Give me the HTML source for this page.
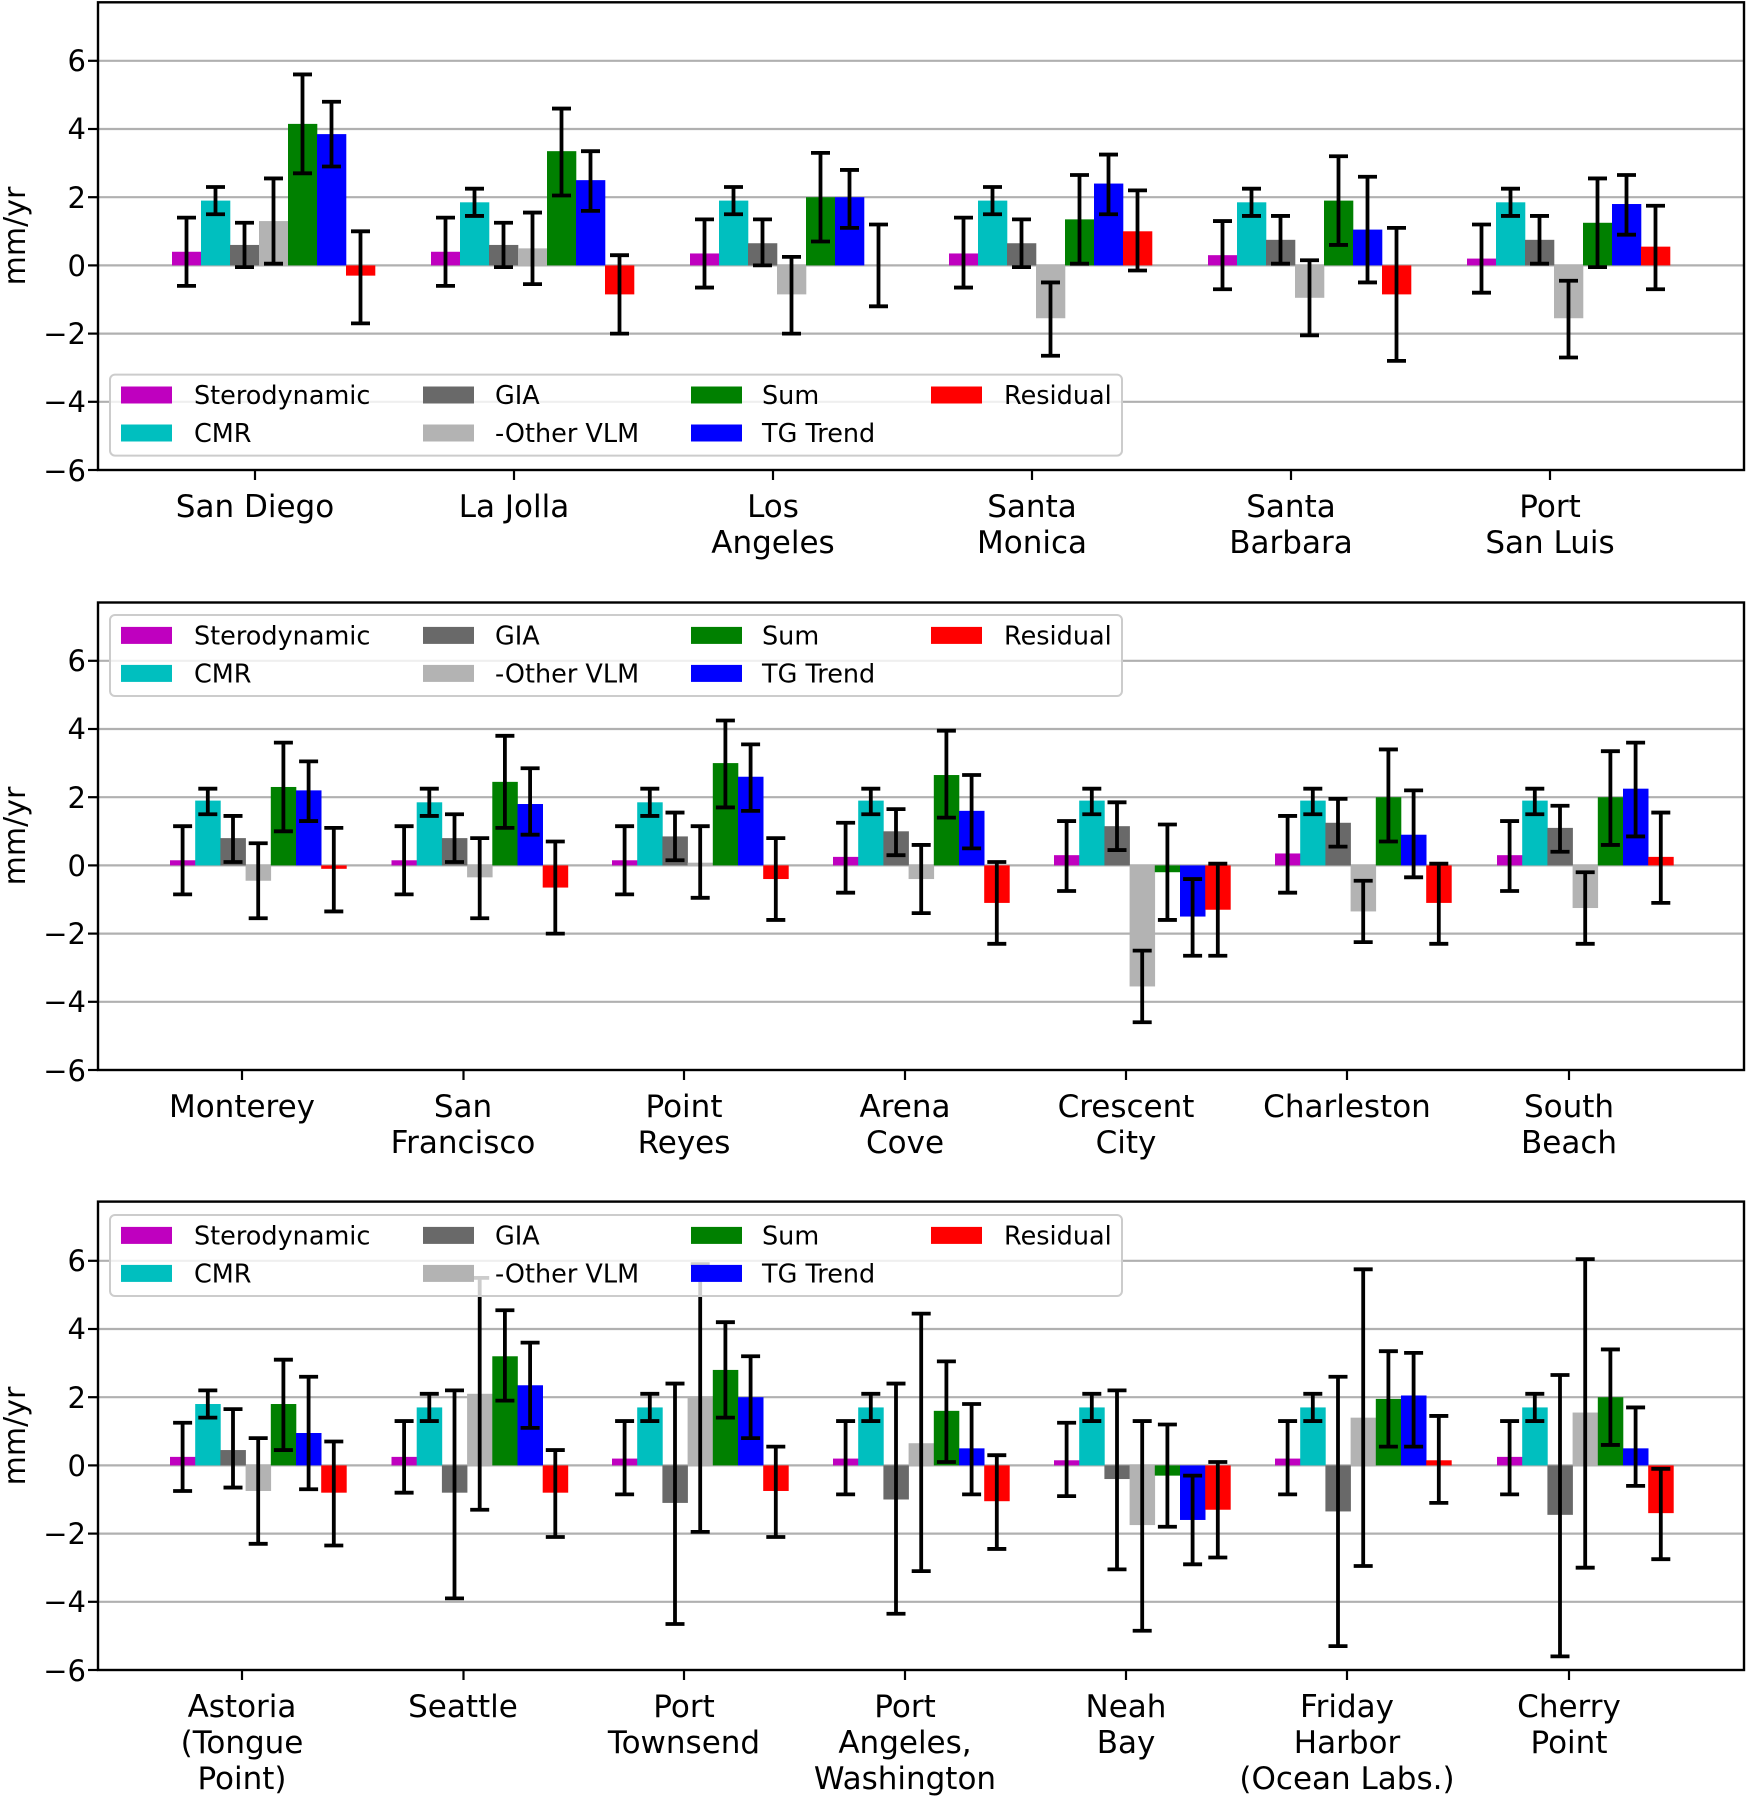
<!DOCTYPE html>
<html><head><meta charset="utf-8"><style>
html,body{margin:0;padding:0;background:#fff}
svg{display:block;font-family:"DejaVu Sans","Liberation Sans",sans-serif}
.yt{font-size:29px;text-anchor:end}
.xt{font-size:31px;text-anchor:middle}
.lg{font-size:25.5px}
</style></head><body>
<svg id="s" width="1747" height="1796" viewBox="0 0 1747 1796" xmlns="http://www.w3.org/2000/svg">
<g id="plot"></g>
<g id="frames"></g>
<g class="yt">
<text x="86" y="71">6</text><text x="86" y="139">4</text><text x="86" y="208">2</text><text x="86" y="276">0</text><text x="86" y="344">−2</text><text x="86" y="412">−4</text><text x="86" y="481">−6</text>
<text x="86" y="671">6</text><text x="86" y="739">4</text><text x="86" y="808">2</text><text x="86" y="876">0</text><text x="86" y="944">−2</text><text x="86" y="1012">−4</text><text x="86" y="1081">−6</text>
<text x="86" y="1271">6</text><text x="86" y="1339">4</text><text x="86" y="1408">2</text><text x="86" y="1476">0</text><text x="86" y="1544">−2</text><text x="86" y="1612">−4</text><text x="86" y="1681">−6</text>
</g>
<g font-size="30px" text-anchor="middle">
<text transform="translate(25,236) rotate(-90)">mm/yr</text>
<text transform="translate(25,836) rotate(-90)">mm/yr</text>
<text transform="translate(25,1436) rotate(-90)">mm/yr</text>
</g>
<g class="xt">
<text x="255" y="517">San Diego</text>
<text x="514" y="517">La Jolla</text>
<text x="773" y="517">Los</text><text x="773" y="553">Angeles</text>
<text x="1032" y="517">Santa</text><text x="1032" y="553">Monica</text>
<text x="1291" y="517">Santa</text><text x="1291" y="553">Barbara</text>
<text x="1550" y="517">Port</text><text x="1550" y="553">San Luis</text>

<text x="242" y="1117">Monterey</text>
<text x="463" y="1117">San</text><text x="463" y="1153">Francisco</text>
<text x="684" y="1117">Point</text><text x="684" y="1153">Reyes</text>
<text x="905" y="1117">Arena</text><text x="905" y="1153">Cove</text>
<text x="1126" y="1117">Crescent</text><text x="1126" y="1153">City</text>
<text x="1347" y="1117">Charleston</text>
<text x="1569" y="1117">South</text><text x="1569" y="1153">Beach</text>

<text x="242" y="1717">Astoria</text><text x="242" y="1753">(Tongue</text><text x="242" y="1789">Point)</text>
<text x="463" y="1717">Seattle</text>
<text x="684" y="1717">Port</text><text x="684" y="1753">Townsend</text>
<text x="905" y="1717">Port</text><text x="905" y="1753">Angeles,</text><text x="905" y="1789">Washington</text>
<text x="1126" y="1717">Neah</text><text x="1126" y="1753">Bay</text>
<text x="1347" y="1717">Friday</text><text x="1347" y="1753">Harbor</text><text x="1347" y="1789">(Ocean Labs.)</text>
<text x="1569" y="1717">Cherry</text><text x="1569" y="1753">Point</text>
</g>
<g>
<rect x="110" y="374.6" width="1012" height="81" rx="5" fill="#fff" fill-opacity="0.8" stroke="#cccccc" stroke-width="2"/>
<rect x="121" y="386.5" width="51" height="17" fill="#bf00bf"/><text class="lg" x="194" y="404">Sterodynamic</text>
<rect x="121" y="424.5" width="51" height="17" fill="#00bfbf"/><text class="lg" x="194" y="442">CMR</text>
<rect x="423" y="386.5" width="51" height="17" fill="#696969"/><text class="lg" x="495" y="404">GIA</text>
<rect x="423" y="424.5" width="51" height="17" fill="#b3b3b3"/><text class="lg" x="495" y="442">-Other VLM</text>
<rect x="691" y="386.5" width="51" height="17" fill="#008000"/><text class="lg" x="762" y="404">Sum</text>
<rect x="691" y="424.5" width="51" height="17" fill="#0000ff"/><text class="lg" x="762" y="442">TG Trend</text>
<rect x="931" y="386.5" width="51" height="17" fill="#ff0000"/><text class="lg" x="1004" y="404">Residual</text>
</g>
<g transform="translate(0,240.4)">
<rect x="110" y="374.6" width="1012" height="81" rx="5" fill="#fff" fill-opacity="0.8" stroke="#cccccc" stroke-width="2"/>
<rect x="121" y="386.5" width="51" height="17" fill="#bf00bf"/><text class="lg" x="194" y="404">Sterodynamic</text>
<rect x="121" y="424.5" width="51" height="17" fill="#00bfbf"/><text class="lg" x="194" y="442">CMR</text>
<rect x="423" y="386.5" width="51" height="17" fill="#696969"/><text class="lg" x="495" y="404">GIA</text>
<rect x="423" y="424.5" width="51" height="17" fill="#b3b3b3"/><text class="lg" x="495" y="442">-Other VLM</text>
<rect x="691" y="386.5" width="51" height="17" fill="#008000"/><text class="lg" x="762" y="404">Sum</text>
<rect x="691" y="424.5" width="51" height="17" fill="#0000ff"/><text class="lg" x="762" y="442">TG Trend</text>
<rect x="931" y="386.5" width="51" height="17" fill="#ff0000"/><text class="lg" x="1004" y="404">Residual</text>
</g>
<g transform="translate(0,840.4)">
<rect x="110" y="374.6" width="1012" height="81" rx="5" fill="#fff" fill-opacity="0.8" stroke="#cccccc" stroke-width="2"/>
<rect x="121" y="386.5" width="51" height="17" fill="#bf00bf"/><text class="lg" x="194" y="404">Sterodynamic</text>
<rect x="121" y="424.5" width="51" height="17" fill="#00bfbf"/><text class="lg" x="194" y="442">CMR</text>
<rect x="423" y="386.5" width="51" height="17" fill="#696969"/><text class="lg" x="495" y="404">GIA</text>
<rect x="423" y="424.5" width="51" height="17" fill="#b3b3b3"/><text class="lg" x="495" y="442">-Other VLM</text>
<rect x="691" y="386.5" width="51" height="17" fill="#008000"/><text class="lg" x="762" y="404">Sum</text>
<rect x="691" y="424.5" width="51" height="17" fill="#0000ff"/><text class="lg" x="762" y="442">TG Trend</text>
<rect x="931" y="386.5" width="51" height="17" fill="#ff0000"/><text class="lg" x="1004" y="404">Residual</text>
</g>
</svg>
<script>
var NS="http://www.w3.org/2000/svg";
var plot=document.getElementById("plot"),frames=document.getElementById("frames");
function el(p,t,a){var e=document.createElementNS(NS,t);for(var k in a)e.setAttribute(k,a[k]);p.appendChild(e);return e;}
var cols=["#bf00bf","#00bfbf","#696969","#b3b3b3","#008000","#0000ff","#ff0000"];
var S=34.1,L=98,R=1744;
var panels=[
 {top:2.3,bot:470,ticks:[255,514,773,1032,1291,1550],w:29,off:83,data:[
  [[0.4,-0.6,1.4],[1.9,1.5,2.3],[0.6,-0.05,1.25],[1.3,0.05,2.55],[4.15,2.7,5.6],[3.85,2.9,4.8],[-0.3,-1.7,1.0]],
  [[0.4,-0.6,1.4],[1.85,1.45,2.25],[0.6,-0.05,1.25],[0.5,-0.55,1.55],[3.35,2.05,4.6],[2.5,1.6,3.35],[-0.85,-2.0,0.3]],
  [[0.35,-0.65,1.35],[1.9,1.5,2.3],[0.65,0,1.35],[-0.85,-2.0,0.25],[2.0,0.7,3.3],[2.0,1.1,2.8],[0,-1.2,1.2]],
  [[0.35,-0.65,1.4],[1.9,1.5,2.3],[0.65,-0.05,1.35],[-1.55,-2.65,-0.5],[1.35,0.05,2.65],[2.4,1.5,3.25],[1.0,-0.15,2.2]],
  [[0.3,-0.7,1.3],[1.85,1.45,2.25],[0.75,0.05,1.45],[-0.95,-2.05,0.15],[1.9,0.6,3.2],[1.05,-0.5,2.6],[-0.85,-2.8,1.1]],
  [[0.2,-0.8,1.2],[1.85,1.45,2.25],[0.75,0.05,1.45],[-1.55,-2.7,-0.45],[1.25,-0.05,2.55],[1.8,0.9,2.65],[0.55,-0.7,1.75]]]},
 {top:602.5,bot:1070,ticks:[242,463.5,684,905,1126,1347,1569],w:25.2,off:72,data:[
  [[0.15,-0.85,1.15],[1.9,1.5,2.25],[0.8,0.1,1.45],[-0.45,-1.55,0.65],[2.3,1.0,3.6],[2.2,1.3,3.05],[-0.1,-1.35,1.1]],
  [[0.15,-0.85,1.15],[1.85,1.45,2.25],[0.8,0.1,1.5],[-0.35,-1.55,0.8],[2.45,1.1,3.8],[1.8,0.9,2.85],[-0.65,-2.0,0.7]],
  [[0.15,-0.85,1.15],[1.85,1.45,2.25],[0.85,0.15,1.55],[0.08,-0.95,1.15],[3.0,1.7,4.25],[2.6,1.6,3.55],[-0.4,-1.6,0.8]],
  [[0.25,-0.8,1.25],[1.9,1.5,2.25],[1.0,0.3,1.65],[-0.4,-1.4,0.6],[2.65,1.4,3.95],[1.6,0.5,2.65],[-1.1,-2.3,0.1]],
  [[0.3,-0.75,1.3],[1.9,1.5,2.25],[1.15,0.45,1.85],[-3.55,-4.6,-2.5],[-0.2,-1.6,1.2],[-1.5,-2.65,-0.4],[-1.3,-2.65,0.05]],
  [[0.35,-0.8,1.45],[1.9,1.5,2.25],[1.25,0.55,1.95],[-1.35,-2.25,-0.45],[2.0,0.7,3.4],[0.9,-0.35,2.2],[-1.1,-2.3,0.05]],
  [[0.3,-0.75,1.3],[1.9,1.5,2.25],[1.1,0.4,1.75],[-1.25,-2.3,-0.2],[2.0,0.6,3.35],[2.25,0.85,3.6],[0.25,-1.1,1.55]]]},
 {top:1201.6,bot:1670,ticks:[242,463.5,684,905,1126,1347,1569],w:25.2,off:72,data:[
  [[0.25,-0.75,1.25],[1.8,1.4,2.2],[0.45,-0.65,1.65],[-0.75,-2.3,0.8],[1.8,0.45,3.1],[0.95,-0.7,2.6],[-0.8,-2.35,0.7]],
  [[0.25,-0.8,1.3],[1.7,1.3,2.1],[-0.8,-3.9,2.2],[2.1,-1.3,5.5],[3.2,1.9,4.55],[2.35,1.1,3.6],[-0.8,-2.1,0.45]],
  [[0.2,-0.85,1.3],[1.7,1.3,2.1],[-1.1,-4.65,2.4],[2.0,-1.95,5.9],[2.8,1.4,4.2],[2.0,0.8,3.2],[-0.75,-2.1,0.55]],
  [[0.2,-0.85,1.3],[1.7,1.3,2.1],[-1.0,-4.35,2.4],[0.65,-3.1,4.45],[1.6,0.1,3.05],[0.5,-0.85,1.8],[-1.05,-2.45,0.3]],
  [[0.15,-0.9,1.25],[1.7,1.3,2.1],[-0.4,-3.05,2.2],[-1.75,-4.85,1.3],[-0.3,-1.8,1.2],[-1.6,-2.9,-0.3],[-1.3,-2.7,0.1]],
  [[0.2,-0.85,1.3],[1.7,1.3,2.1],[-1.35,-5.3,2.6],[1.4,-2.95,5.75],[1.95,0.55,3.35],[2.05,0.55,3.3],[0.15,-1.1,1.45]],
  [[0.25,-0.85,1.3],[1.7,1.3,2.1],[-1.45,-5.6,2.65],[1.55,-3.0,6.05],[2.0,0.6,3.4],[0.5,-0.6,1.7],[-1.4,-2.75,-0.1]]]}
];
panels.forEach(function(p){
 var z=p.bot-6*S;
 function Y(v){return z-v*S;}
 for(var v=-4;v<=6;v+=2) el(plot,"line",{x1:L,x2:R,y1:Y(v),y2:Y(v),stroke:"#b0b0b0","stroke-width":2.2});
 var eb=[];
 p.ticks.forEach(function(t,gi){
  var d=p.data[gi];
  for(var i=0;i<7;i++){
   var x=t-p.off+p.w*i, v=d[i][0];
   var y1=Math.min(Y(v),z), h=Math.abs(v*S);
   el(plot,"rect",{x:x,y:y1,width:p.w+0.3,height:Math.max(h,0.01),fill:cols[i]});
   eb.push([x+p.w/2,Y(d[i][1]),Y(d[i][2])]);
  }
 });
 eb.forEach(function(e){
  var c=e[0];
  el(plot,"line",{x1:c,x2:c,y1:e[1],y2:e[2],stroke:"#000","stroke-width":3.8});
  el(plot,"line",{x1:c-9.5,x2:c+9.5,y1:e[1],y2:e[1],stroke:"#000","stroke-width":3.8});
  el(plot,"line",{x1:c-9.5,x2:c+9.5,y1:e[2],y2:e[2],stroke:"#000","stroke-width":3.8});
 });
 el(frames,"rect",{x:L,y:p.top,width:R-L,height:p.bot-p.top,fill:"none",stroke:"#000","stroke-width":2.4});
 for(var v=-6;v<=6;v+=2) el(frames,"line",{x1:L-10,x2:L,y1:Y(v),y2:Y(v),stroke:"#000","stroke-width":2.2});
 p.ticks.forEach(function(t){el(frames,"line",{x1:t,x2:t,y1:p.bot,y2:p.bot+10,stroke:"#000","stroke-width":2.2});});
});
</script>
</body></html>
